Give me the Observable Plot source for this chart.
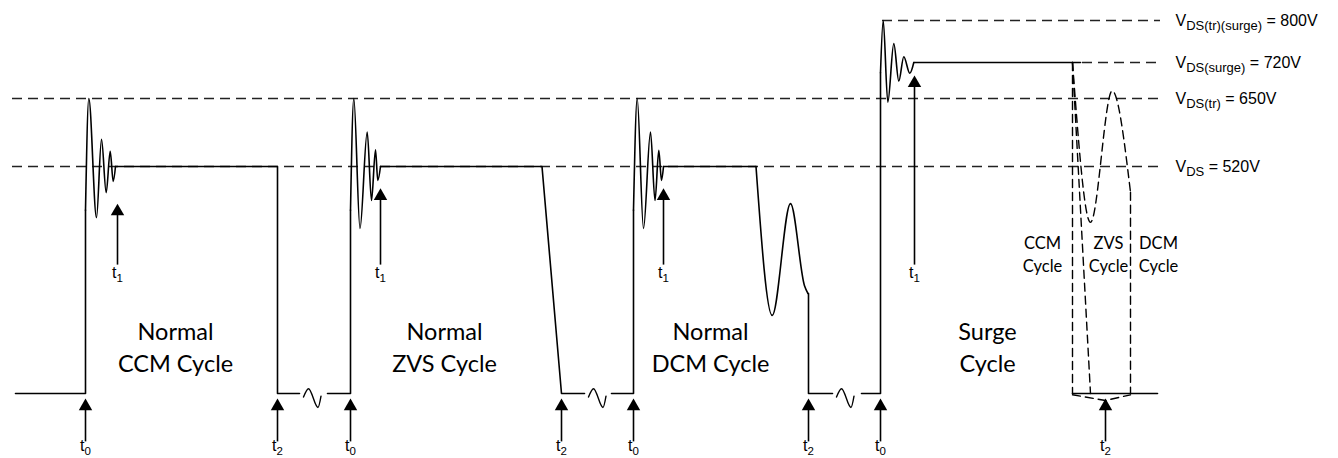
<!DOCTYPE html>
<html>
<head>
<meta charset="utf-8">
<script src="https://cdn.jsdelivr.net/npm/d3@7"></script>
<script src="https://cdn.jsdelivr.net/npm/@observablehq/plot@0.6"></script>
<style>
  html, body { margin: 0; padding: 0; background: #fff; }
  #chart svg { display: block; }
</style>
</head>
<body>
<div id="chart"></div>
<script>
// ---- Data (time in arbitrary units, voltage in V) ----
const levelValues = [800, 720, 650, 520];
const levelSubs = ["DS(tr)(surge)", "DS(surge)", "DS(tr)", "DS"];
const levelStart = [882, 1082, 12, 12];
const levelEnd = [1160, 1160, 1160, 1160];

const solidPolylines = [
  [[15, 0], [85, 0], [85, 420]],
  [[115, 520], [277, 520], [277, 0], [299, 0]],
  [[327, 0], [350, 0], [350, 420]],
  [[380, 520], [541.5, 520], [561, 0], [584, 0]],
  [[611, 0], [633, 0], [633, 420]],
  [[663, 520], [755.5, 520]],
  [[807.5, 229], [808, 229], [808, 0], [832, 0]],
  [[861, 0], [880, 0], [880, 700]],
  [[913.3, 720], [1080, 720]],
  [[1072, 0], [1157, 0]]
];
const solidCurves = [
  [[85, 420], [88.3, 650], [96, 403], [101, 572], [105.7, 460], [109.7, 549], [112.7, 486], [115, 520]],
  [[350, 420], [353.3, 650], [359.5, 378], [366.7, 586], [371, 442], [375, 552], [377.3, 488], [380, 520]],
  [[633, 420], [636.7, 650], [643, 378], [650, 586], [654.5, 442], [658.3, 551], [661, 488], [663, 520]],
  [[755.5, 520], [771.7, 179], [790, 435], [804, 247], [807.5, 229]],
  [[880, 700], [882.7, 800], [887.3, 643], [893.3, 756], [898.3, 684], [903.3, 731], [909.3, 699], [913.3, 720]]
];
const breakSquiggles = [
  [[303, -8], [308, 11], [317.5, -32], [320.5, -6]],
  [[588, -8], [593, 11], [602.5, -32], [605.5, -6]],
  [[836, -8], [841, 11], [850.5, -32], [853.5, -6]]
];
const dashedPolylines = [
  [[1072, 720], [1072, 0]],
  [[1072, 720], [1090, 0]],
  [[1130, 461], [1130, 0]],
  [[1072, -3], [1105, -16], [1130, -3]]
];
const dashedCurves = [
  [[1072, 720], [1090, 392], [1111.7, 665], [1130, 461]]
];

const t0Times = [85, 350, 633, 880];
const t2Times = [277, 561, 808, 1105];
const t1Times = [117, 380, 663, 914];
const t1Tips = [435, 470, 470, 695];
const tArrowBase = -96, tArrowTip = -11.5, t1ArrowBase = 309;
const tLabelV = -119, t1LabelV = 277;

const cycleNames = ["Normal\nCCM Cycle", "Normal\nZVS Cycle", "Normal\nDCM Cycle", "Surge\nCycle"];
const cycleCenters = [175, 444, 710, 987];
const cycleLabelV = 110;
const surgeModes = ["CCM\nCycle", "ZVS\nCycle", "DCM\nCycle"];
const surgeModeCenters = [1042, 1108, 1158];
const surgeModeV = 321;

// ---- Build tables ----
const toRows = (lists) => lists.flatMap((pts, i) => pts.map(([t, v]) => ({seg: i, t, v})));
const solidLin = toRows(solidPolylines);
const solidCur = toRows(solidCurves);
const squig = toRows(breakSquiggles);
const dashLin = toRows(dashedPolylines);
const dashCur = toRows(dashedCurves);
const levels = levelValues.map((v, i) => ({v, t1: levelStart[i], t2: levelEnd[i],
  parts: [{s: "V"}, {s: levelSubs[i], sub: true}, {s: ` = ${v}V`}]}));
const tMarks = [
  ...t0Times.map(t => ({t, base: tArrowBase, tip: tArrowTip, lv: tLabelV, parts: [{s: "t"}, {s: "0", sub: true}]})),
  ...t2Times.map(t => ({t, base: tArrowBase, tip: tArrowTip, lv: tLabelV, parts: [{s: "t"}, {s: "2", sub: true}]})),
  ...t1Times.map((t, i) => ({t, base: t1ArrowBase, tip: t1Tips[i], lv: t1LabelV, parts: [{s: "t"}, {s: "1", sub: true}]}))
];
const cycles = cycleNames.map((name, i) => ({name, t: cycleCenters[i], v: cycleLabelV}));
const modes = surgeModes.map((name, i) => ({name, t: surgeModeCenters[i], v: surgeModeV}));

const plainText = d => d.parts.map(p => p.s).join("");

const svg = Plot.plot({
  width: 1338,
  height: 458,
  margin: 0,
  style: {background: "#fff"},
  x: {type: "linear", domain: [0, 1338], range: [0, 1338], axis: null},
  y: {type: "linear", domain: [0, 520, 650, 720, 800], range: [393, 166, 98, 62, 20], clamp: false, axis: null},
  marks: [
    Plot.ruleY(levels, {y: "v", x1: "t1", x2: "t2", stroke: "#222", strokeWidth: 1.5, strokeDasharray: "10,6"}),
    Plot.line(solidLin, {x: "t", y: "v", z: "seg", stroke: "#000", strokeWidth: 1.6, curve: "linear"}),
    Plot.line(solidCur, {x: "t", y: "v", z: "seg", stroke: "#000", strokeWidth: 1.6, curve: "monotone-x"}),
    Plot.line(squig, {x: "t", y: "v", z: "seg", stroke: "#000", strokeWidth: 1.4, curve: "monotone-x"}),
    Plot.line(dashLin, {x: "t", y: "v", z: "seg", stroke: "#000", strokeWidth: 1.4, strokeDasharray: "8,5", curve: "linear"}),
    Plot.line(dashCur, {x: "t", y: "v", z: "seg", stroke: "#000", strokeWidth: 1.4, strokeDasharray: "8,5", curve: "monotone-x"}),
    Plot.link(tMarks, {x1: "t", x2: "t", y1: "base", y2: "tip", stroke: "#000", strokeWidth: 1.6, dy: 6}),
    Plot.dot(tMarks, {x: "t", y: "tip", symbol: "triangle", r: 5, fill: "#000", stroke: "none", dy: 7.8}),
    Plot.text(tMarks, {x: "t", y: "lv", text: plainText,
      fontFamily: "Liberation Sans, Arial, sans-serif", fontSize: 16, fill: "#000", textAnchor: "middle"}),
    Plot.text(levels, {x: () => 1175, y: "v", text: plainText,
      fontFamily: "Liberation Sans, Arial, sans-serif", fontSize: 16, fill: "#000", textAnchor: "start"}),
    Plot.text(cycles, {x: "t", y: "v", text: "name", fontFamily: "Lato, Carlito, sans-serif", fontSize: 23.5,
      lineHeight: 1.36, fill: "#000", textAnchor: "middle"}),
    Plot.text(modes, {x: "t", y: "v", text: "name", fontFamily: "Lato, Carlito, sans-serif", fontSize: 16.5,
      lineHeight: 1.4, fill: "#000", textAnchor: "middle"})
  ]
});

// Rebuild subscripted labels as real text with tspans (matched by their content)
const NS = "http://www.w3.org/2000/svg";
const partsByText = new Map([...tMarks, ...levels].map(d => [plainText(d), d.parts]));
svg.querySelectorAll("text").forEach(el => {
  const parts = partsByText.get(el.textContent);
  if (!parts || el.querySelector("tspan")) return;
  const isT = parts.length === 2;
  const subSize = isT ? 11.5 : 13;
  const shift = 4.5;
  el.textContent = "";
  let down = false;
  for (const p of parts) {
    const ts = document.createElementNS(NS, "tspan");
    ts.textContent = p.s;
    ts.setAttribute("fill", "#000");
    if (p.sub) {
      ts.setAttribute("font-size", subSize);
      if (!down) { ts.setAttribute("dy", shift); down = true; }
    } else if (down) {
      ts.setAttribute("dy", -shift); down = false;
    }
    el.appendChild(ts);
  }
});

document.getElementById("chart").appendChild(svg);
</script>
</body>
</html>
